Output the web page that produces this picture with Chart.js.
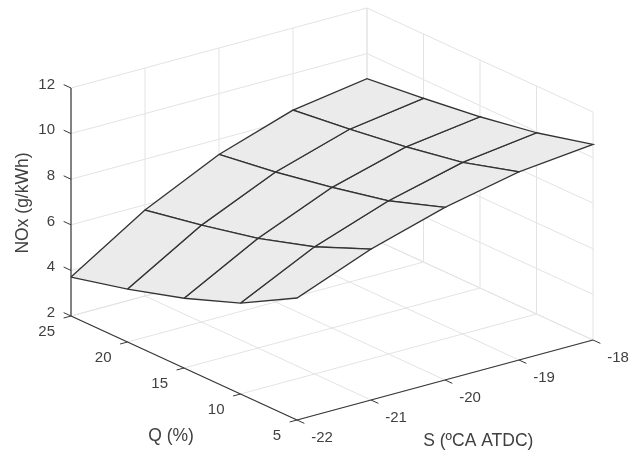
<!DOCTYPE html>
<html>
<head>
<meta charset="utf-8">
<title>NOx surface</title>
<script src="https://cdn.jsdelivr.net/npm/chart.js@4"></script>
<style>
  html, body { margin: 0; padding: 0; background: #fff; }
  canvas { display: block; }
</style>
</head>
<body>
<canvas id="surfaceChart" width="631" height="453"></canvas>
<script>
// values
const sTicks = [-22, -21, -20, -19, -18];
const qTicks = [25, 20, 15, 10, 5];
const zTicks = [2, 4, 6, 8, 10, 12];

// one row per Q (same order as qTicks), one column per S (same order as sTicks)
const noxQ25 = [3.71, 5.77, 7.33, 8.40, 8.90];
const noxQ20 = [4.32, 6.25, 7.70, 8.70, 9.18];
const noxQ15 = [5.06, 6.81, 8.17, 9.07, 9.51];
const noxQ10 = [5.99, 7.58, 8.72, 9.53, 9.95];
const noxQ5 = [7.35, 8.62, 9.57, 10.25, 10.58];
const noxRows = [noxQ25, noxQ20, noxQ15, noxQ10, noxQ5];

// 3D view: orthographic projection of (S, Q, NOx) to the page
function project(s, q, z) {
    const ds = s + 22, dq = 25 - q, dz = z - 2;
    return {
        x: 71 + 74 * ds + 11.3 * dq,
        y: 316 - 20 * ds + 5.2 * dq - 22.8 * dz
    };
}

const gridColor = '#e3e3e3';
const axisColor = '#383838';
const meshColor = '#333333';
const faceColor = '#ebebeb';
const textColor = '#404040';

const datasets = [];

function addLine(points, color, width, order) {
    datasets.push({
        data: points, showLine: true, fill: false,
        borderColor: color, borderWidth: width,
        pointRadius: 0, tension: 0, order: order
    });
}

// axis lines and ticks on top
addLine([project(-22, 25, 2), project(-22, 25, 12)], axisColor, 1.2, 1);
addLine([project(-22, 25, 2), project(-22, 5, 2)], axisColor, 1.2, 1);
addLine([project(-22, 5, 2), project(-18, 5, 2)], axisColor, 1.2, 1);
zTicks.forEach(z => {
    addLine([project(-22, 25, z), project(-22, 25.65, z)], axisColor, 1, 1);
});
qTicks.forEach(q => {
    addLine([project(-22, q, 2), project(-22.1, q, 2)], axisColor, 1, 1);
});
sTicks.forEach(s => {
    addLine([project(s, 5, 2), project(s, 4.35, 2)], axisColor, 1, 1);
});

// surface cells
for (let i = 0; i < qTicks.length - 1; i++) {
    for (let j = 0; j < sTicks.length - 1; j++) {
        datasets.push({
            data: [
                project(sTicks[j], qTicks[i], noxRows[i][j]),
                project(sTicks[j + 1], qTicks[i], noxRows[i][j + 1]),
                project(sTicks[j + 1], qTicks[i + 1], noxRows[i + 1][j + 1]),
                project(sTicks[j], qTicks[i + 1], noxRows[i + 1][j]),
                project(sTicks[j], qTicks[i], noxRows[i][j])
            ],
            showLine: true, fill: 'shape', backgroundColor: faceColor,
            borderColor: meshColor, borderWidth: 1.3,
            pointRadius: 0, tension: 0, order: 2
        });
    }
}

// box grid behind the surface
sTicks.forEach(s => {
    addLine([project(s, 5, 2), project(s, 25, 2)], gridColor, 1, 3);
    addLine([project(s, 25, 2), project(s, 25, 12)], gridColor, 1, 3);
});
qTicks.forEach(q => {
    addLine([project(-22, q, 2), project(-18, q, 2)], gridColor, 1, 3);
    addLine([project(-18, q, 2), project(-18, q, 12)], gridColor, 1, 3);
});
zTicks.forEach(z => {
    addLine([project(-22, 25, z), project(-18, 25, z)], gridColor, 1, 3);
    addLine([project(-18, 25, z), project(-18, 5, z)], gridColor, 1, 3);
});

// tick labels and axis titles follow the 3D axes
const axisText = {
    id: 'axisText',
    afterDraw(chart) {
        const ctx = chart.ctx;
        ctx.save();
        ctx.fillStyle = textColor;
        ctx.textBaseline = 'middle';
        ctx.font = '15px "Liberation Sans", Arial, sans-serif';

        ctx.textAlign = 'right';
        zTicks.forEach(z => {
            const p = project(-22, 25, z);
            ctx.fillText(String(z), p.x - 16, p.y - 3.3);
        });
        qTicks.forEach(q => {
            const p = project(-22, q, 2);
            ctx.fillText(String(q), p.x - 16, p.y + 15.7);
        });
        ctx.textAlign = 'center';
        sTicks.forEach(s => {
            const p = project(s, 5, 2);
            ctx.fillText(String(s), p.x + 25, p.y + 17.7);
        });

        ctx.font = '17.5px "Liberation Sans", Arial, sans-serif';
        ctx.fillText('Q (%)', 171, 435.7);
        ctx.fillText('S (ºCA ATDC)', 478.3, 441);
        ctx.translate(23, 203);
        ctx.rotate(-Math.PI / 2);
        ctx.fillText('NOx (g/kWh)', 0, 0);
        ctx.restore();
    }
};

new Chart(document.getElementById('surfaceChart').getContext('2d'), {
    type: 'scatter',
    data: { datasets: datasets },
    options: {
        responsive: false,
        animation: false,
        layout: { padding: 0 },
        scales: {
            x: { type: 'linear', display: false, min: 0, max: 631 },
            y: { type: 'linear', display: false, min: 0, max: 453, reverse: true }
        },
        plugins: {
            legend: { display: false },
            tooltip: { enabled: false }
        }
    },
    plugins: [axisText]
});
</script>
</body>
</html>
